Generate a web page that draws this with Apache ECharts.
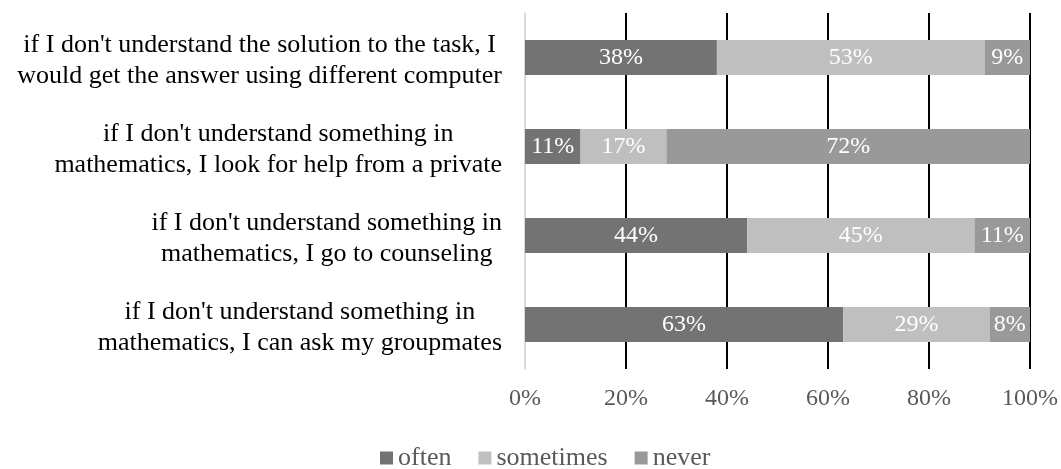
<!DOCTYPE html>
<html>
<head>
<meta charset="utf-8">
<script src="https://cdn.jsdelivr.net/npm/echarts@6/dist/echarts.min.js"></script>
<style>
  html, body { margin: 0; padding: 0; background: #fff; }
  #main { width: 1061px; height: 469px; }
</style>
</head>
<body>
<div id="main"></div>
<script>
// categories, top to bottom
var categories = [
    "if I don't understand the solution to the task, I\nwould get the answer using different computer",
    "if I don't understand something in\nmathematics, I look for help from a private",
    "if I don't understand something in\nmathematics, I go to counseling",
    "if I don't understand something in\nmathematics, I can ask my groupmates"
];
var seriesNames = ['often', 'sometimes', 'never'];
var often = [38, 11, 44, 63];
var sometimes = [53, 17, 45, 29];
var never = [9, 72, 11, 8];
var colors = ['#737373', '#bfbfbf', '#999999'];

var FONT = 'Liberation Serif';

function makeSeries(name, data, color) {
    return {
        name: name,
        type: 'bar',
        stack: 'total',
        barWidth: 35,
        data: data,
        itemStyle: { color: color },
        label: {
            show: true,
            position: 'inside',
            formatter: '{c}%',
            color: '#fff',
            fontFamily: FONT,
            fontSize: 24
        }
    };
}

var myChart = echarts.init(document.getElementById('main'));
myChart.setOption({
    animation: false,
    color: colors,
    grid: { left: 525, right: 27, top: 13, bottom: 100, containLabel: false },
    legend: {
        top: 440,
        left: 375,
        itemWidth: 13,
        itemHeight: 13,
        itemGap: 27,
        icon: 'rect',
        textStyle: { fontFamily: FONT, fontSize: 26, color: '#595959' },
        data: seriesNames
    },
    xAxis: {
        type: 'value',
        min: 0,
        max: 100,
        interval: 20,
        axisLine: { show: false },
        axisTick: { show: false },
        axisLabel: {
            formatter: '{value}%',
            margin: 18,
            fontFamily: FONT,
            fontSize: 24,
            color: '#595959'
        },
        splitLine: {
            lineStyle: { color: ['#d9d9d9', '#000', '#000', '#000', '#000', '#000'], width: 2 }
        }
    },
    yAxis: {
        type: 'category',
        inverse: true,
        data: categories,
        axisLine: { show: true, lineStyle: { color: '#d9d9d9', width: 1.5 } },
        axisTick: { show: false },
        axisLabel: {
            margin: 23,
            align: 'right',
            padding: [7, 0, 0, 0],
            formatter: function (v) {
                return v.split('\n').map(function (s) { return '{a|' + s + '}'; }).join('\n');
            },
            rich: {
                a: {
                    align: 'center',
                    fontFamily: FONT,
                    fontSize: 26,
                    lineHeight: 31,
                    color: '#000'
                }
            }
        }
    },
    series: [
        makeSeries(seriesNames[0], often, colors[0]),
        makeSeries(seriesNames[1], sometimes, colors[1]),
        makeSeries(seriesNames[2], never, colors[2])
    ]
});
</script>
</body>
</html>
